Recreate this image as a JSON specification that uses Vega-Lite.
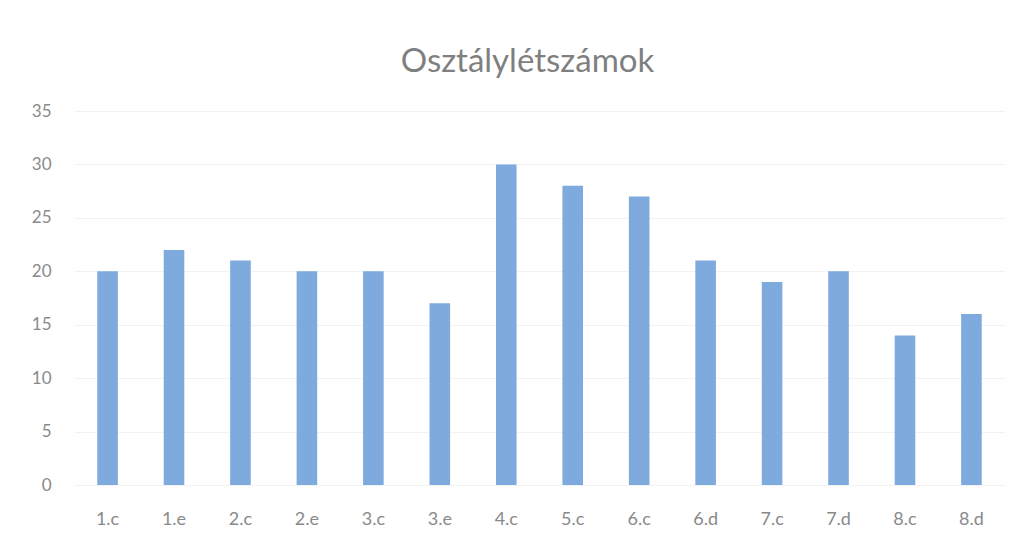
{
  "$schema": "https://vega.github.io/schema/vega-lite/v6.json",
  "autosize": "none",
  "width": 931,
  "height": 374,
  "padding": {"left": 74, "top": 111, "right": 15, "bottom": 49},
  "background": "white",
  "title": {
    "text": "Osztálylétszámok",
    "font": "Lato",
    "fontSize": 33,
    "fontWeight": "normal",
    "color": "#7f7f7f",
    "offset": 23,
    "dx": -12
  },
  "data": {
    "values": [
      {"osztaly": "1.c", "letszam": 20},
      {"osztaly": "1.e", "letszam": 22},
      {"osztaly": "2.c", "letszam": 21},
      {"osztaly": "2.e", "letszam": 20},
      {"osztaly": "3.c", "letszam": 20},
      {"osztaly": "3.e", "letszam": 17},
      {"osztaly": "4.c", "letszam": 30},
      {"osztaly": "5.c", "letszam": 28},
      {"osztaly": "6.c", "letszam": 27},
      {"osztaly": "6.d", "letszam": 21},
      {"osztaly": "7.c", "letszam": 19},
      {"osztaly": "7.d", "letszam": 20},
      {"osztaly": "8.c", "letszam": 14},
      {"osztaly": "8.d", "letszam": 16}
    ]
  },
  "mark": {"type": "bar", "color": "#7eaadd"},
  "encoding": {
    "x": {
      "field": "osztaly",
      "type": "nominal",
      "sort": null,
      "title": null,
      "scale": {"paddingInner": 0.69, "paddingOuter": 0.35},
      "axis": {
        "labelAngle": 0,
        "labelFont": "Lato",
        "labelFontSize": 18,
        "labelColor": "#8a8a8a",
        "labelPadding": 25,
        "ticks": false,
        "domain": false,
        "grid": false
      }
    },
    "y": {
      "field": "letszam",
      "type": "quantitative",
      "title": null,
      "scale": {"domain": [0, 35]},
      "axis": {
        "values": [0, 5, 10, 15, 20, 25, 30, 35],
        "labelFont": "Lato",
        "labelFontSize": 17,
        "labelColor": "#8a8a8a",
        "labelPadding": 23,
        "ticks": false,
        "domain": false,
        "grid": true,
        "gridColor": "#f2f2f2",
        "gridWidth": 1
      }
    }
  },
  "config": {"view": {"stroke": null}}
}
